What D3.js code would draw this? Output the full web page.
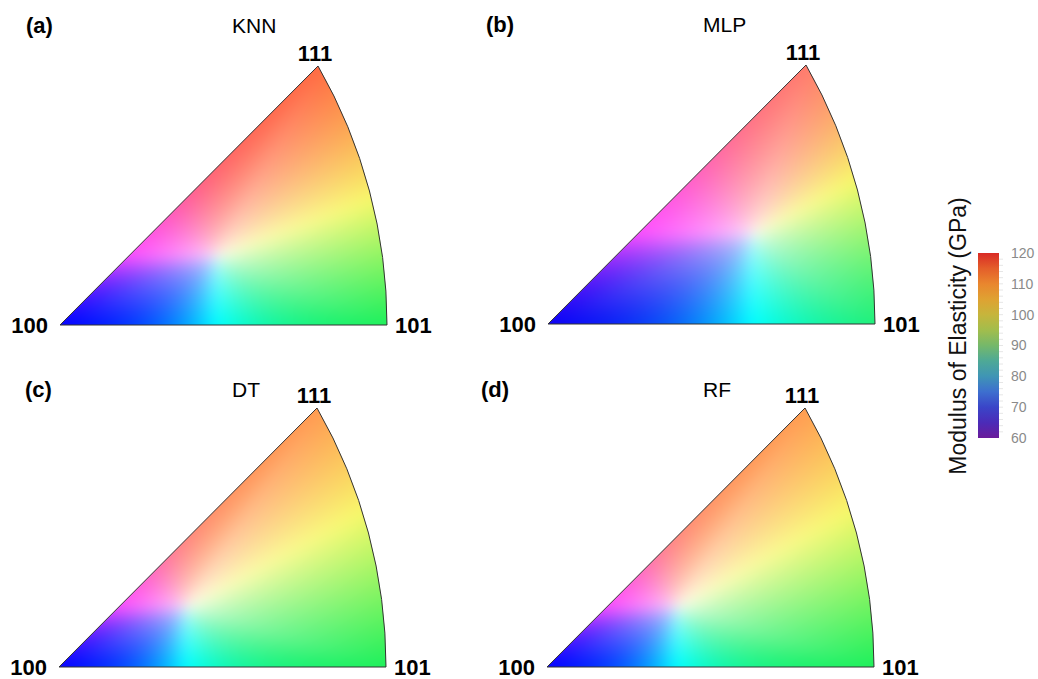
<!DOCTYPE html>
<html>
<head>
<meta charset="utf-8">
<script src="https://cdn.jsdelivr.net/npm/d3@7"></script>
<style>
  body { margin: 0; background: #fff; }
  text { font-family: Arial, "Liberation Sans", sans-serif; }
</style>
</head>
<body>
<div id="chart"></div>
<script>
// ---- data ----
const models = ["KNN", "MLP", "DT", "RF"];
const panelTags = ["(a)", "(b)", "(c)", "(d)"];
const poleLabels = ["100", "101", "111"];
// triangle in its own units: 100 at (0,0), 101 at (1,0)
const pole111 = [0.789, 0.792];
const arcCentreU = -0.592;          // centre of the 101-111 arc, on the base line
// where the key turns white, per model
const whitePoints = [[0.48, 0.21], [0.627, 0.275], [0.39, 0.183], [0.398, 0.183]];
// slope of the yellow ridge running from the white point to the arc
const yellowSlopes = [0.37, 0.53, 0.54, 0.56];
const colour100 = ["#0000ff", "#0a00f5", "#0000ff", "#0000ff"];
const colour101 = ["#1ef05a", "#1ef07a", "#1ef05a", "#1ef05a"];
const colour111 = ["#ff6a42", "#ff7a6c", "#ff9a50", "#ff9c50"];
const colourCyan = "#00ffff", colourMagenta = "#ff50ff", colourYellow = "#f8f86a";

const cbValues  = [60, 65, 70, 75, 80, 85, 90, 95, 100, 105, 110, 115, 120];
const cbColours = ["#6a1b9a", "#4b2bb8", "#3a45c8", "#3d6fcf", "#3f95b5", "#4ea996",
                   "#75b86a", "#a2bd4c", "#c6b53c", "#dfa232", "#e9862e", "#e45e2a", "#d92a25"];
const cbTicks = [60, 70, 80, 90, 100, 110, 120];
const cbTitle = "Modulus of Elasticity (GPa)";

// ---- layout ----
const W = 1038, H = 679, unit = 327;
const panelLayout = [
  {x: 60,  y: 325, tagX: 26,  titleX: 232, textY: 33},
  {x: 548, y: 324, tagX: 486, titleX: 703, textY: 32},
  {x: 59,  y: 667, tagX: 25,  titleX: 232, textY: 397},
  {x: 547, y: 667, tagX: 481, titleX: 703, textY: 397}
];

const svg = d3.select("#chart").append("svg")
  .attr("width", W).attr("height", H)
  .style("background", "#fff");
const defs = svg.append("defs");

const R = 1 - arcCentreU;
const [ax, ay] = pole111;

// distance from point w along unit direction d to the edge of the triangle
function exitDist(w, d) {
  let best = Infinity;
  if (d[1] < 0) best = Math.min(best, -w[1] / d[1]);
  const den = ax * d[1] - ay * d[0];
  if (Math.abs(den) > 1e-12) {
    const s = (ay * w[0] - ax * w[1]) / den;
    if (s > 0) best = Math.min(best, s);
  }
  const px = w[0] - arcCentreU, py = w[1];
  const b = px * d[0] + py * d[1];
  const c = px * px + py * py - R * R;
  const s = -b + Math.sqrt(b * b - c);
  if (s > 0) best = Math.min(best, s);
  return best;
}

// separable box blur
function boxBlur(ch, w, h, r) {
  const tmp = new Float32Array(w * h);
  for (let y = 0; y < h; y++) {
    for (let x = 0; x < w; x++) {
      let s = 0;
      for (let k = -r; k <= r; k++) s += ch[y * w + Math.min(w - 1, Math.max(0, x + k))];
      tmp[y * w + x] = s / (2 * r + 1);
    }
  }
  for (let x = 0; x < w; x++) {
    for (let y = 0; y < h; y++) {
      let s = 0;
      for (let k = -r; k <= r; k++) s += tmp[Math.min(h - 1, Math.max(0, y + k)) * w + x];
      ch[y * w + x] = s / (2 * r + 1);
    }
  }
}

const toRGB = c => { const q = d3.rgb(c); return [q.r, q.g, q.b]; };

models.forEach((m, i) => {
  const L = panelLayout[i];
  const xs = d3.scaleLinear().domain([0, 1]).range([L.x, L.x + unit]);
  const ys = d3.scaleLinear().domain([0, 1]).range([L.y, L.y - unit]);

  // outline of the standard triangle
  const cx = xs(arcCentreU), cy = ys(0);
  const a1 = Math.atan2(ys(ay) - cy, xs(ax) - cx);
  const p = d3.path();
  p.moveTo(xs(0), ys(0));
  p.lineTo(xs(1), ys(0));
  p.arc(cx, cy, R * unit, 0, a1, true);
  p.closePath();

  defs.append("clipPath").attr("id", "clip" + i)
    .append("path").attr("d", p.toString());

  // key colours round the edge, ordered by angle seen from the white point
  const wpt = whitePoints[i];
  const dy = [1, yellowSlopes[i]].map((d, k, a) => d / Math.hypot(a[0], a[1]));
  const sy = exitDist(wpt, dy);
  const keyPts = [
    [[0, 0], colour100[i]],
    [[wpt[0], 0], colourCyan],
    [[1, 0], colour101[i]],
    [[wpt[0] + sy * dy[0], wpt[1] + sy * dy[1]], colourYellow],
    [[ax, ay], colour111[i]],
    [[wpt[1] * ax / ay, wpt[1]], colourMagenta]
  ].map(([pt, c]) => ({a: Math.atan2(pt[1] - wpt[1], pt[0] - wpt[0]), c: toRGB(c)}))
   .sort((a, b) => a.a - b.a);
  keyPts.push({a: keyPts[0].a + 2 * Math.PI, c: keyPts[0].c});

  function edgeColour(ang) {
    if (ang < keyPts[0].a) ang += 2 * Math.PI;
    for (let k = 0; k < keyPts.length - 1; k++) {
      const A = keyPts[k], B = keyPts[k + 1];
      if (ang >= A.a && ang <= B.a) {
        const f = (ang - A.a) / (B.a - A.a);
        return [0, 1, 2].map(c => A.c[c] + (B.c[c] - A.c[c]) * f);
      }
    }
    return keyPts[0].c;
  }

  // colour key rendered into a canvas
  const pad = 16;
  const x0 = Math.floor(xs(0)) - pad, x1 = Math.ceil(xs(1)) + pad;
  const y0 = Math.floor(ys(ay)) - pad, y1 = Math.ceil(ys(0)) + pad;
  const cw = x1 - x0, chh = y1 - y0;
  const chans = [new Float32Array(cw * chh), new Float32Array(cw * chh), new Float32Array(cw * chh)];
  for (let py = 0; py < chh; py++) {
    for (let px = 0; px < cw; px++) {
      const u = xs.invert(x0 + px + 0.5), v = ys.invert(y0 + py + 0.5);
      const du = u - wpt[0], dv = v - wpt[1];
      const len = Math.hypot(du, dv);
      let col = [255, 255, 255];
      if (len > 1e-9) {
        const d = [du / len, dv / len];
        const t = Math.min(1, len / exitDist(wpt, d));
        const e = edgeColour(Math.atan2(dv, du));
        const f = Math.pow(t, 0.55);
        col = e.map(c => 255 + (c - 255) * f);
      }
      for (let c = 0; c < 3; c++) chans[c][py * cw + px] = col[c];
    }
  }
  chans.forEach(chn => { for (let t = 0; t < 3; t++) boxBlur(chn, cw, chh, 6); });

  const canvas = document.createElement("canvas");
  canvas.width = cw; canvas.height = chh;
  const ctx = canvas.getContext("2d");
  const img = ctx.createImageData(cw, chh);
  for (let q = 0; q < cw * chh; q++) {
    img.data[q * 4] = chans[0][q];
    img.data[q * 4 + 1] = chans[1][q];
    img.data[q * 4 + 2] = chans[2][q];
    img.data[q * 4 + 3] = 255;
  }
  ctx.putImageData(img, 0, 0);

  const g = svg.append("g");
  g.append("image")
    .attr("x", x0).attr("y", y0).attr("width", cw).attr("height", chh)
    .attr("href", canvas.toDataURL())
    .attr("clip-path", "url(#clip" + i + ")");
  g.append("path").attr("d", p.toString())
    .attr("fill", "none").attr("stroke", "#333").attr("stroke-width", 1);

  // pole labels
  g.append("text").text(poleLabels[0])
    .attr("x", xs(0) - 12).attr("y", ys(0) + 8)
    .attr("text-anchor", "end").attr("font-weight", "bold").attr("font-size", 22);
  g.append("text").text(poleLabels[1])
    .attr("x", xs(1) + 8).attr("y", ys(0) + 8)
    .attr("font-weight", "bold").attr("font-size", 22);
  g.append("text").text(poleLabels[2])
    .attr("x", xs(ax) - 3).attr("y", ys(ay) - 5)
    .attr("text-anchor", "middle").attr("font-weight", "bold").attr("font-size", 22);

  g.append("text").text(panelTags[i])
    .attr("x", L.tagX).attr("y", L.textY)
    .attr("font-weight", "bold").attr("font-size", 22);
  g.append("text").text(m)
    .attr("x", L.titleX).attr("y", L.textY)
    .attr("font-size", 21);
});

// ---- colour bar ----
const cbScale = d3.scaleLinear().domain([60, 120]).range([438, 253]);
const grad = defs.append("linearGradient").attr("id", "cbGrad")
  .attr("x1", 0).attr("y1", 1).attr("x2", 0).attr("y2", 0);
grad.selectAll("stop").data(cbValues).enter().append("stop")
  .attr("offset", d => (d - 60) / 60)
  .attr("stop-color", (d, i) => cbColours[i]);

svg.append("rect")
  .attr("x", 978).attr("y", cbScale(120))
  .attr("width", 21).attr("height", cbScale(60) - cbScale(120))
  .attr("fill", "url(#cbGrad)");

const cbAxis = d3.axisRight(cbScale).tickValues(cbTicks).tickSize(0).tickPadding(12);
const ag = svg.append("g").attr("transform", "translate(999,0)").call(cbAxis);
ag.select(".domain").remove();
ag.selectAll("text").attr("fill", "#8a8a8a").attr("font-size", 14)
  .style("font-family", "Arial, 'Liberation Sans', sans-serif");

// faint minor ticks
svg.append("g").selectAll("line").data(d3.range(62, 120, 2)).enter().append("line")
  .attr("x1", 999).attr("x2", 1003)
  .attr("y1", d => cbScale(d)).attr("y2", d => cbScale(d))
  .attr("stroke", "#e6e6e6").attr("stroke-width", 1);

svg.append("text").text(cbTitle)
  .attr("transform", "translate(966,336) rotate(-90)")
  .attr("text-anchor", "middle").attr("font-size", 23).attr("fill", "#111");
</script>
</body>
</html>
